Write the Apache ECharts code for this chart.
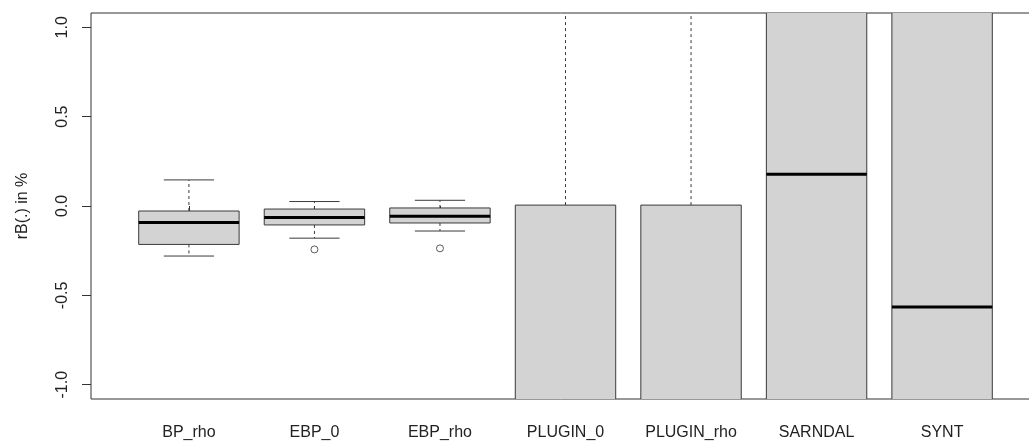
<!DOCTYPE html>
<html lang="en">
  <head>
    <meta charset="UTF-8" />
    <title>rB boxplot</title>
    <script src="https://cdn.jsdelivr.net/npm/echarts@6/dist/echarts.min.js"></script>
    <style>
      html, body { margin: 0; padding: 0; background: #fff; }
      #chart { width: 1029px; height: 441px; }
    </style>
  </head>
  <body>
    <div id="chart"></div>
    <script>
      var categories = ["BP_rho", "EBP_0", "EBP_rho", "PLUGIN_0", "PLUGIN_rho", "SARNDAL", "SYNT"];
      var lowWhisker = [-0.28, -0.18, -0.14, -4, -4, -6, -6];
      var q1 = [-0.215, -0.106, -0.095, -2.5, -2.5, -3, -3];
      var median = [-0.093, -0.065, -0.058, -1.5, -1.5, 0.177, -0.565];
      var q3 = [-0.028, -0.017, -0.011, 0.005, 0.005, 2, 2];
      var highWhisker = [0.146, 0.025, 0.032, 3, 3, 5, 5];
      // outliers: [category index (1-based), value]
      var outliers = [[2, -0.243], [3, -0.237]];
      var yTicks = [-1, -0.5, 0, 0.5, 1];

      var boxData = categories.map(function (c, i) {
        return [i + 1, lowWhisker[i], q1[i], median[i], q3[i], highWhisker[i]];
      });

      var edge = "#3a3a3a";
      var font = "Liberation Sans, Arial, sans-serif";

      function renderBox(params, api) {
        var x = api.value(0);
        var halfW = api.size([0.8, 0])[0] / 2;
        var capW = halfW / 2;
        var pLo = api.coord([x, api.value(1)]);
        var pQ1 = api.coord([x, api.value(2)]);
        var pMed = api.coord([x, api.value(3)]);
        var pQ3 = api.coord([x, api.value(4)]);
        var pHi = api.coord([x, api.value(5)]);
        var cx = pMed[0];
        var dashed = { stroke: edge, lineWidth: 1, lineDash: [3, 3] };
        var solid = { stroke: edge, lineWidth: 1 };
        return {
          type: "group",
          children: [
            { type: "line", shape: { x1: cx, y1: pQ3[1], x2: cx, y2: pHi[1] }, style: dashed },
            { type: "line", shape: { x1: cx, y1: pQ1[1], x2: cx, y2: pLo[1] }, style: dashed },
            { type: "line", shape: { x1: cx - capW, y1: pHi[1], x2: cx + capW, y2: pHi[1] }, style: solid },
            { type: "line", shape: { x1: cx - capW, y1: pLo[1], x2: cx + capW, y2: pLo[1] }, style: solid },
            {
              type: "rect",
              shape: { x: cx - halfW, y: pQ3[1], width: halfW * 2, height: pQ1[1] - pQ3[1] },
              style: { fill: "#d3d3d3", stroke: edge, lineWidth: 1 }
            },
            { type: "line", shape: { x1: cx - halfW, y1: pMed[1], x2: cx + halfW, y2: pMed[1] }, style: { stroke: "#000", lineWidth: 3 } }
          ]
        };
      }

      var chart = echarts.init(document.getElementById("chart"));
      chart.setOption({
        animation: false,
        grid: {
          left: 91, top: 13, width: 949, height: 386,
          outerBoundsMode: "none",
          show: true, borderColor: "#333", borderWidth: 1
        },
        xAxis: {
          type: "value",
          min: 0.22,
          max: 7.78,
          splitLine: { show: false },
          axisLine: { show: false },
          axisTick: { show: true, length: 9, customValues: [1, 2, 3, 4, 5, 6, 7], lineStyle: { color: "#333" } },
          axisLabel: {
            customValues: [1, 2, 3, 4, 5, 6, 7],
            margin: 26,
            color: "#222",
            fontSize: 16,
            fontFamily: font,
            formatter: function (v) { return categories[Math.round(v) - 1]; }
          }
        },
        yAxis: {
          type: "value",
          min: -1.08,
          max: 1.08,
          name: "rB(.) in %",
          nameLocation: "middle",
          nameRotate: 90,
          nameGap: 60,
          nameTextStyle: { color: "#222", fontSize: 16, fontFamily: font },
          splitLine: { show: false },
          axisLine: { show: false },
          axisTick: { show: true, length: 9, customValues: yTicks, lineStyle: { color: "#333" } },
          axisLabel: {
            customValues: yTicks,
            rotate: 90,
            margin: 20,
            color: "#222",
            fontSize: 16,
            fontFamily: font,
            formatter: function (v) { return v.toFixed(1); }
          }
        },
        series: [
          {
            type: "custom",
            clip: true,
            renderItem: renderBox,
            encode: { x: 0, y: [1, 2, 3, 4, 5] },
            data: boxData
          },
          {
            type: "scatter",
            symbol: "circle",
            symbolSize: 7,
            itemStyle: { color: "#fff", borderColor: "#333", borderWidth: 1 },
            z: 5,
            data: outliers
          }
        ]
      });
    </script>
  </body>
</html>
